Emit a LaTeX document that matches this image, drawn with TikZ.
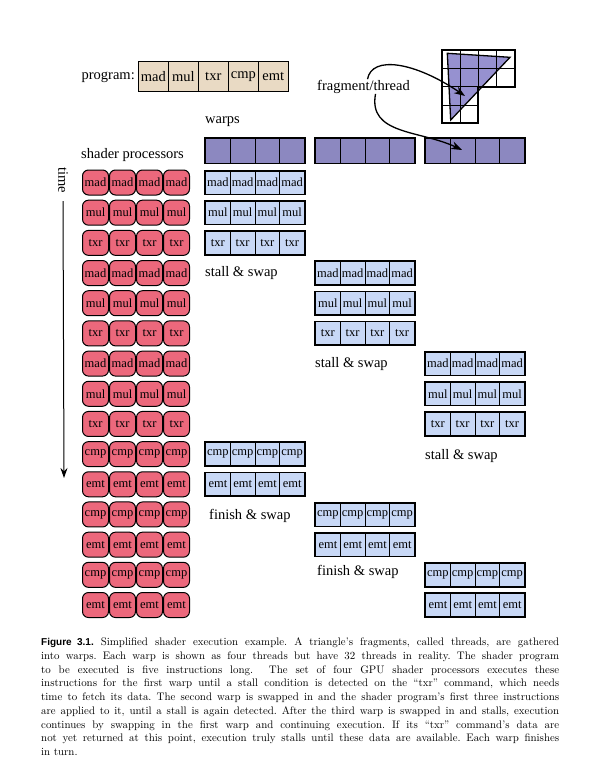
\documentclass[tikz,border=0pt]{standalone}
\usepackage{fontspec}
\newfontfamily\tms{Liberation Serif}
\newfontfamily\capsf{Liberation Sans}
\usetikzlibrary{arrows.meta}
\definecolor{beige}{RGB}{233,218,196}
\definecolor{warpc}{RGB}{140,136,192}
\definecolor{trifill}{RGB}{150,145,208}
\definecolor{redc}{RGB}{236,104,124}
\definecolor{bluec}{RGB}{200,216,246}
\begin{document}
\frenchspacing
\begin{tikzpicture}[x=1pt,y=-1pt,
  lbl/.style={font=\tms\fontsize{14.5}{16}\selectfont, inner sep=0},
  prog/.style={draw, line width=1.3pt, fill=beige, minimum width=30pt, minimum height=30pt, inner sep=0, font=\tms\fontsize{14.5}{16}\selectfont},
  spbox/.style={draw, line width=1pt, fill=redc, rounded corners=6pt, minimum width=26pt, minimum height=25pt, inner sep=0, font=\tms\fontsize{12.5}{14}\selectfont},
  thbox/.style={draw, line width=0.9pt, fill=bluec, minimum width=24.75pt, minimum height=23pt, inner sep=0, font=\tms\fontsize{12.5}{14}\selectfont},
  wcell/.style={draw, line width=0.9pt, fill=warpc, minimum width=24.75pt, minimum height=25pt, inner sep=0},
  outer/.style={line width=1.5pt},
  arr/.style={line width=1.3pt, -{Stealth[length=11pt,width=8pt]}},
  capline/.style={anchor=base west, inner sep=0, font=\fontsize{10.9}{12}\selectfont},
]
\useasboundingbox[fill=white] (0,0) rectangle (604,768);

% program
\node[lbl, anchor=east] (proglbl) at (135,77) {program:};
\foreach \t [count=\k from 0] in {mad,mul,txr,cmp,emt}
  \node[prog] (p\k) at ({153.3+30*\k},76.7) {\t};

% fragment grid with triangle
\fill[trifill] (447.3,53.3) -- (510,57.3) -- (450.7,120) -- cycle;
\draw[line width=0.9pt] (441.7,68.3) -- (515,68.3)
  (441.7,86.7) -- (478.3,86.7)
  (441.7,105) -- (478.3,105)
  (460,50) -- (460,123.3)
  (478.3,50) -- (478.3,86.7)
  (496.7,50) -- (496.7,86.7);
\draw[line width=1.8pt] (441.7,50) -- (515,50) -- (515,86.7) -- (478.3,86.7) -- (478.3,123.3) -- (441.7,123.3) -- cycle;
\draw[line width=1.3pt, line join=miter] (447.3,53.3) -- (510,57.3) -- (450.7,120) -- cycle;

\node[lbl] (frag) at (363.5,87) {fragment/thread};
\coordinate (tipA) at (465,96);

% labels
\node[lbl, anchor=west] (warps) at (205,122) {warps};
\node[lbl, anchor=west] (shproc) at (81,155) {shader processors};
\node[lbl, rotate=-90] (time) at (63,180) {time};
\coordinate (timeend) at (64,478);
\draw[line width=1pt, -{Stealth[length=10pt,width=7pt]}] ([yshift=-8pt]time.east) -- (timeend);

% warp bars
\foreach \w/\xl in {1/205.5,2/315.5,3/425.5}{
  \foreach \j in {0,...,3}
    \node[wcell] (w\w-\j) at ({\xl+12.375+24.75*\j},150.5) {};
  \draw[outer] (w\w-0.north west) rectangle (w\w-3.south east);
}
\coordinate (tipB) at (462,150);

\draw[arr] ([xshift=4pt,yshift=1pt]frag.north) .. controls (372,55) and (415,62) .. (tipA);
\draw[arr] ([xshift=12pt]frag.south) .. controls (368,135) and (420,130) .. (tipB);

% shader processors
\foreach \i/\t in {0/mad,1/mul,2/txr,3/mad,4/mul,5/txr,6/mad,7/mul,8/txr,9/cmp,10/emt,11/cmp,12/emt,13/cmp,14/emt}
  \foreach \j in {0,...,3}
    \node[spbox] (r\i-\j) at ({95.5+27*\j},{182.5+30.18*\i}) {\t};

% warp instruction rows
\foreach \w/\xl/\i/\t in {1/205.5/0/mad,1/205.5/1/mul,1/205.5/2/txr,1/205.5/9/cmp,1/205.5/10/emt,
  2/315.5/3/mad,2/315.5/4/mul,2/315.5/5/txr,2/315.5/11/cmp,2/315.5/12/emt,
  3/425.5/6/mad,3/425.5/7/mul,3/425.5/8/txr,3/425.5/13/cmp,3/425.5/14/emt}{
  \foreach \j in {0,...,3}
    \node[thbox] (b\w-\i-\j) at ({\xl+12.375+24.75*\j},{182.5+30.18*\i}) {\t};
  \draw[outer] (b\w-\i-0.north west) rectangle (b\w-\i-3.south east);
}

\node[lbl, anchor=west] (ss1) at (205,273) {stall \& swap};
\node[lbl, anchor=west] (ss2) at (315,364) {stall \& swap};
\node[lbl, anchor=west] (ss3) at (425,456) {stall \& swap};
\node[lbl, anchor=west] (fs1) at (209,516) {finish \& swap};
\node[lbl, anchor=west] (fs2) at (317,572) {finish \& swap};

% caption
\node[capline] (c1) at (41,645.5) {\makebox[518pt][s]{{\capsf\bfseries\fontsize{10}{12}\selectfont Figure 3.1.} Simplified shader execution example. A triangle's fragments, called threads, are gathered}};
\node[capline] (c2) at (41,659.25) {\makebox[518pt][s]{into warps. Each warp is shown as four threads but have 32 threads in reality. The shader program}};
\node[capline] (c3) at (41,673) {\makebox[518pt][s]{to be executed is five instructions long. \ The set of four GPU shader processors executes these}};
\node[capline] (c4) at (41,686.75) {\makebox[518pt][s]{instructions for the first warp until a stall condition is detected on the “txr” command, which needs}};
\node[capline] (c5) at (41,700.5) {\makebox[518pt][s]{time to fetch its data. The second warp is swapped in and the shader program's first three instructions}};
\node[capline] (c6) at (41,714.25) {\makebox[518pt][s]{are applied to it, until a stall is again detected. After the third warp is swapped in and stalls, execution}};
\node[capline] (c7) at (41,728) {\makebox[518pt][s]{continues by swapping in the first warp and continuing execution. If its “txr” command's data are}};
\node[capline] (c8) at (41,741.75) {\makebox[518pt][s]{not yet returned at this point, execution truly stalls until these data are available. Each warp finishes}};
\node[capline] (c9) at (41,755.5) {in turn.};
\end{tikzpicture}
\end{document}
